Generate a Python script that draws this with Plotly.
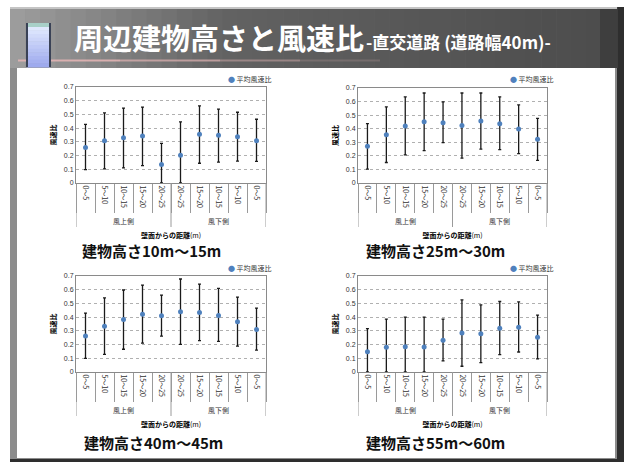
import plotly.graph_objects as go

W, H = 624, 462

# ---- data ----
categories = ["0～5", "5～10", "10～15", "15～20", "20～25",
              "20～25", "15～20", "10～15", "5～10", "0～5"]
side_labels = ["風上側", "風下側"]
side_sizes = [5, 5]

mean_10_15 = [0.259, 0.308, 0.330, 0.343, 0.135, 0.203, 0.355, 0.348, 0.338, 0.308]
upper_10_15 = [0.428, 0.511, 0.546, 0.553, 0.289, 0.445, 0.563, 0.538, 0.516, 0.465]
lower_10_15 = [0.098, 0.103, 0.110, 0.127, 0.0, 0.0, 0.144, 0.152, 0.159, 0.157]

mean_25_30 = [0.271, 0.356, 0.420, 0.451, 0.444, 0.424, 0.456, 0.437, 0.398, 0.322]
upper_25_30 = [0.437, 0.561, 0.634, 0.663, 0.598, 0.663, 0.663, 0.634, 0.576, 0.476]
lower_25_30 = [0.102, 0.151, 0.207, 0.239, 0.298, 0.183, 0.249, 0.246, 0.217, 0.166]

mean_40_45 = [0.263, 0.334, 0.383, 0.422, 0.410, 0.439, 0.434, 0.412, 0.366, 0.310]
upper_40_45 = [0.429, 0.541, 0.598, 0.634, 0.561, 0.678, 0.641, 0.610, 0.546, 0.466]
lower_40_45 = [0.100, 0.129, 0.166, 0.210, 0.261, 0.202, 0.229, 0.224, 0.188, 0.159]

mean_55_60 = [0.148, 0.180, 0.185, 0.183, 0.232, 0.284, 0.279, 0.319, 0.326, 0.254]
upper_55_60 = [0.316, 0.385, 0.400, 0.400, 0.385, 0.526, 0.489, 0.514, 0.511, 0.415]
lower_55_60 = [0.0, 0.0, 0.0, 0.0, 0.081, 0.042, 0.069, 0.126, 0.146, 0.096]

panel_titles = ["建物高さ10m～15m", "建物高さ25m～30m", "建物高さ40m～45m", "建物高さ55m～60m"]
series_name = "平均風速比"
main_title = "周辺建物高さと風速比"
sub_title = "-直交道路 (道路幅40m)-"
x_title = "<b>壁面からの距離</b>(m)"
y_title = "<b>風速比</b>"

JP = "Noto Sans CJK JP, Liberation Sans, sans-serif"
MARK = "#4f81bd"


def px(x):
    return x / W


def py(y):
    return 1 - y / H


fig = go.Figure()

idx = list(range(len(categories)))
bounds = [i - 0.5 for i in range(len(categories) + 1)]
group_edges = [-0.5]
for s in side_sizes:
    group_edges.append(group_edges[-1] + s)
group_centers = [(a + b) / 2 for a, b in zip(group_edges[:-1], group_edges[1:])]

panels = [
    (mean_10_15, upper_10_15, lower_10_15, (76, 266), (87, 183), (226, 79), (151, 250)),
    (mean_25_30, upper_25_30, lower_25_30, (358, 547), (88, 183), (508, 79), (435, 250)),
    (mean_40_45, upper_40_45, lower_40_45, (76, 266), (276, 372), (226, 268), (153, 442)),
    (mean_55_60, upper_55_60, lower_55_60, (358, 547), (276, 372), (508, 268), (435, 442)),
]

layout_axes = {}
annotations = []
shapes = []
for i, (mean, up, lo, xd, yd, leg, tpos) in enumerate(panels, start=1):
    sfx = "" if i == 1 else str(i)
    plot_h = yd[1] - yd[0]
    fig.add_trace(go.Scatter(
        x=idx, y=mean, mode="markers", name=series_name,
        marker=dict(color=MARK, size=5),
        error_y=dict(type="data", symmetric=False,
                     array=[u - m for u, m in zip(up, mean)],
                     arrayminus=[m - l for m, l in zip(mean, lo)],
                     color="#1a1a1a", thickness=1.3, width=1.5),
        xaxis=f"x{sfx}", yaxis=f"y{sfx}", showlegend=False,
    ))
    layout_axes[f"xaxis{sfx}"] = dict(
        domain=[px(xd[0]), px(xd[1])], anchor=f"y{sfx}", range=[-0.5, len(categories) - 0.5],
        tickmode="array", tickvals=idx, ticktext=categories, tickangle=90,
        tickfont=dict(size=7, color="#333", family=JP), ticks="",
        minor=dict(tickmode="array", tickvals=bounds, ticks="outside", ticklen=29,
                   tickcolor="#9a9a9a", tickwidth=1, showgrid=False),
        showline=True, linecolor="#8a8a8a", mirror=True, showgrid=False, zeroline=False,
        automargin=False,
        title=dict(text=x_title, font=dict(size=7, color="#000", family=JP), standoff=26),
    )
    layout_axes[f"yaxis{sfx}"] = dict(
        domain=[py(yd[1]), py(yd[0])], anchor=f"x{sfx}", range=[0, 0.7], dtick=0.1,
        showgrid=True, gridcolor="#b0b0b0", griddash="dot", gridwidth=1,
        showline=True, linecolor="#8a8a8a", mirror=True, zeroline=False,
        tickfont=dict(size=7, color="#333", family="Liberation Sans, Arial"),
        ticks="", automargin=False,
        title=dict(text=y_title, font=dict(size=7, color="#000", family=JP), standoff=6),
    )
    for e in group_edges:
        shapes.append(dict(type="line", xref=f"x{sfx}", yref=f"y{sfx} domain",
                           x0=e, x1=e, y0=0, y1=-44 / plot_h,
                           line=dict(color="#9a9a9a", width=1)))
    for c, lab in zip(group_centers, side_labels):
        annotations.append(dict(x=c, y=-38 / plot_h, xref=f"x{sfx}", yref=f"y{sfx} domain",
                                text=lab, showarrow=False, xanchor="center", yanchor="middle",
                                font=dict(size=7, color="#333", family=JP)))
    annotations.append(dict(
        x=px(leg[0]), y=py(leg[1]), xref="paper", yref="paper",
        text=f"<span style='color:{MARK}'>●</span> {series_name}", showarrow=False,
        xanchor="left", yanchor="middle", font=dict(size=7, color="#333", family=JP)))
    annotations.append(dict(
        x=px(tpos[0]), y=py(tpos[1]), xref="paper", yref="paper",
        text=f"<b>{panel_titles[i-1]}</b>", showarrow=False,
        font=dict(size=15, color="#111", family=JP), xanchor="center", yanchor="middle",
    ))


# ---- slide frame ----
def rect(x0, y0, x1, y1, color):
    return dict(type="rect", xref="paper", yref="paper",
                x0=px(x0), x1=px(x1), y0=py(y1), y1=py(y0),
                fillcolor=color, line=dict(width=0), layer="below")


def lerp(c0, c1, t):
    return "#%02x%02x%02x" % tuple(int(round(a + (b - a) * t)) for a, b in zip(c0, c1))


frame = []
frame.append(rect(10, 7, 624, 462, "#2e2e2e"))
frame.append(rect(10, 7, 617, 459, "#8c8c8c"))
n = 40
x_start, x_end = 10, 617
for k in range(n):
    t = k / (n - 1)
    if t < 0.35:
        col = lerp((0x9c, 0x9c, 0x9c), (0x62, 0x62, 0x62), t / 0.35)
    else:
        col = lerp((0x62, 0x62, 0x62), (0x4c, 0x4c, 0x4c), (t - 0.35) / 0.65)
    xa = x_start + (x_end - x_start) * k / n
    xb = x_start + (x_end - x_start) * (k + 1) / n + 0.5
    frame.append(rect(xa, 7, xb, 68, col))
frame.append(rect(10, 7, 617, 9, "#c4c4c4"))
frame.append(rect(600, 9, 617, 68, "#3e3e3e"))
for xa, xb, op in [(18, 120, 0.9), (120, 220, 0.7), (220, 300, 0.45), (300, 380, 0.2)]:
    frame.append(dict(type="line", xref="paper", yref="paper",
                      x0=px(xa), x1=px(xb), y0=py(60.5), y1=py(60.5),
                      line=dict(color=f"rgba(225,180,180,{op})", width=2), layer="below"))
frame.append(rect(17, 68, 615, 458, "#ffffff"))
m = 12
for k in range(m):
    t = k / (m - 1)
    col = lerp((0xe6, 0xee, 0xff), (0x9e, 0xaa, 0xee), t)
    ya = 23 + (67 - 23) * k / m
    yb = 23 + (67 - 23) * (k + 1) / m + 0.5
    frame.append(rect(27, ya, 50, yb, col))
frame.append(rect(27, 23, 50, 27, "#a8d0c8"))
frame.append(rect(26, 23, 28, 67, "#3a4256"))
frame.append(rect(49, 23, 51, 67, "#3a4256"))

annotations.append(dict(
    x=px(72), y=py(37), xref="paper", yref="paper", text=f"<b>{main_title}</b>",
    showarrow=False, xanchor="left", yanchor="middle",
    font=dict(size=29, color="#ffffff", family=JP)))
annotations.append(dict(
    x=px(364), y=py(41), xref="paper", yref="paper", text=f"<b>{sub_title}</b>",
    showarrow=False, xanchor="left", yanchor="middle",
    font=dict(size=17, color="#ffffff", family=JP)))

fig.update_layout(
    template="none",
    width=W, height=H, margin=dict(l=0, r=0, t=0, b=0),
    paper_bgcolor="#ffffff", plot_bgcolor="#ffffff",
    font=dict(family=JP, size=7, color="#333"),
    shapes=frame + shapes, annotations=annotations, showlegend=False, **layout_axes,
)

fig.write_html("out.html")
